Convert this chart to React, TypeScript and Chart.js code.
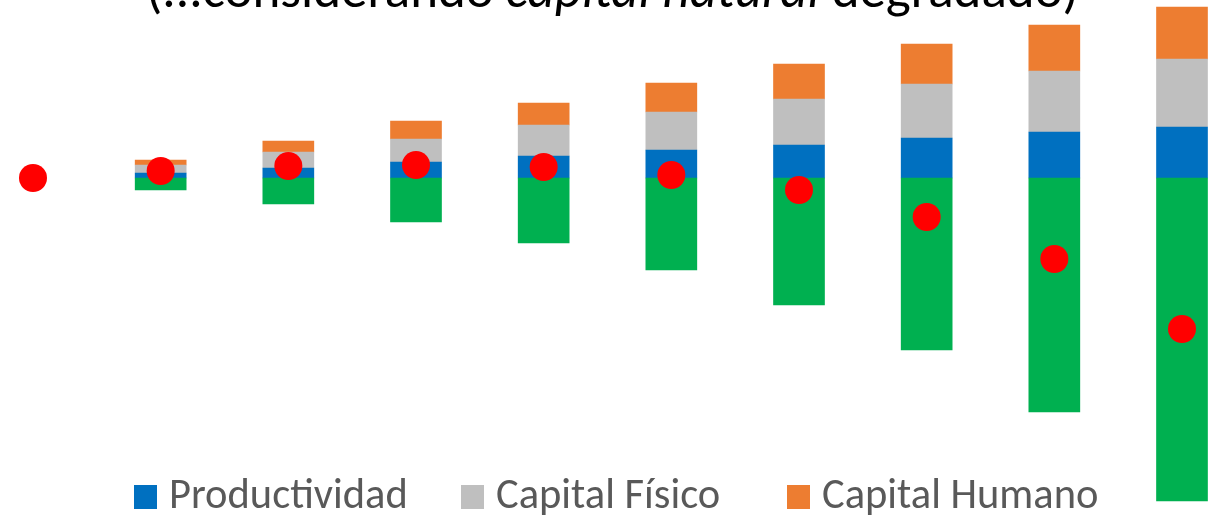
import React, { useEffect, useRef } from "react";
import { Chart, registerables } from "chart.js";

Chart.register(...registerables);

const categories = ["0", "1", "2", "3", "4", "5", "6", "7", "8", "9"];
const productividad = [0, 0.5, 1.0, 1.6, 2.2, 2.8, 3.3, 4.0, 4.6, 5.1];
const capitalFisico = [0, 0.8, 1.6, 2.3, 3.1, 3.8, 4.6, 5.4, 6.1, 6.8];
const capitalHumano = [0, 0.5, 1.1, 1.8, 2.2, 2.9, 3.5, 4.0, 4.6, 5.2];
const capitalNatural = [0, -1.2, -2.6, -4.4, -6.5, -9.2, -12.7, -17.2, -23.4, -32.3];
const total = [0, 0.7, 1.2, 1.3, 1.1, 0.3, -1.2, -3.9, -8.1, -15.1];

const COLORS = {
  productividad: "#0070C0",
  fisico: "#BFBFBF",
  humano: "#ED7D31",
  natural: "#00B050",
  total: "#FF0000",
};

const FONT = "Carlito, Calibri, Lato, 'Open Sans', sans-serif";

const legendItems = [
  { label: "Productividad", color: COLORS.productividad, box: 134, text: 169 },
  { label: "Capital Físico", color: COLORS.fisico, box: 461, text: 496 },
  { label: "Capital Humano", color: COLORS.humano, box: 787, text: 822 },
];

const nz = (arr: number[]) => arr.map((v) => (v === 0 ? null : v));

export default function App() {
  const ref = useRef<HTMLCanvasElement | null>(null);

  useEffect(() => {
    if (!ref.current) return;
    const barCommon = {
      stack: "s",
      order: 1,
      barThickness: 51,
      borderWidth: 0,
      clip: false,
    };
    const chart = new Chart(ref.current, {
      type: "bar",
      data: {
        labels: categories,
        datasets: [
          {
            type: "line",
            label: "Total",
            data: total,
            showLine: false,
            pointRadius: 14,
            pointHoverRadius: 14,
            pointBackgroundColor: COLORS.total,
            pointBorderWidth: 0,
            borderColor: COLORS.total,
            backgroundColor: COLORS.total,
            stack: "total",
            order: 0,
            clip: false,
          } as any,
          {
            label: "Capital Natural",
            data: nz(capitalNatural),
            backgroundColor: COLORS.natural,
            ...barCommon,
          } as any,
          {
            label: "Productividad",
            data: nz(productividad),
            backgroundColor: COLORS.productividad,
            ...barCommon,
          } as any,
          {
            label: "Capital Físico",
            data: nz(capitalFisico),
            backgroundColor: COLORS.fisico,
            ...barCommon,
          } as any,
          {
            label: "Capital Humano",
            data: nz(capitalHumano),
            backgroundColor: COLORS.humano,
            ...barCommon,
          } as any,
        ],
      },
      options: {
        animation: false,
        responsive: true,
        maintainAspectRatio: false,
        layout: { autoPadding: false, padding: { left: 33, right: 35, top: 0, bottom: 0 } },
        plugins: {
          legend: { display: false },
          tooltip: { enabled: false },
          title: { display: false },
        },
        scales: {
          x: {
            display: false,
            offset: false,
            stacked: true,
            grid: { display: false, offset: false },
          },
          y: {
            display: false,
            stacked: true,
            min: -33.8,
            max: 17.8,
            grid: { display: false },
          },
        },
      } as any,
    });
    return () => chart.destroy();
  }, []);

  return (
    <div
      style={{
        position: "fixed",
        left: 0,
        top: 0,
        width: 1217,
        height: 516,
        background: "#ffffff",
        overflow: "hidden",
        fontFamily: FONT,
      }}
    >
      <canvas ref={ref} style={{ position: "absolute", left: 0, top: 0 }} />
      <div
        style={{
          position: "absolute",
          left: 0,
          top: -37,
          width: 1217,
          textAlign: "center",
          fontSize: 53,
          lineHeight: "53px",
          color: "#000000",
          whiteSpace: "nowrap",
          paddingLeft: 8,
          boxSizing: "border-box",
        }}
      >
        (...considerando <i>capital natural</i> degradado)
      </div>
      {legendItems.map((it) => (
        <React.Fragment key={it.label}>
          <div
            style={{
              position: "absolute",
              left: it.box,
              top: 485,
              width: 23,
              height: 24,
              background: it.color,
            }}
          />
          <div
            style={{
              position: "absolute",
              left: it.text,
              top: 473,
              fontSize: 42.5,
              lineHeight: "42px",
              color: "#595959",
              whiteSpace: "nowrap",
            }}
          >
            {it.label}
          </div>
        </React.Fragment>
      ))}
    </div>
  );
}
